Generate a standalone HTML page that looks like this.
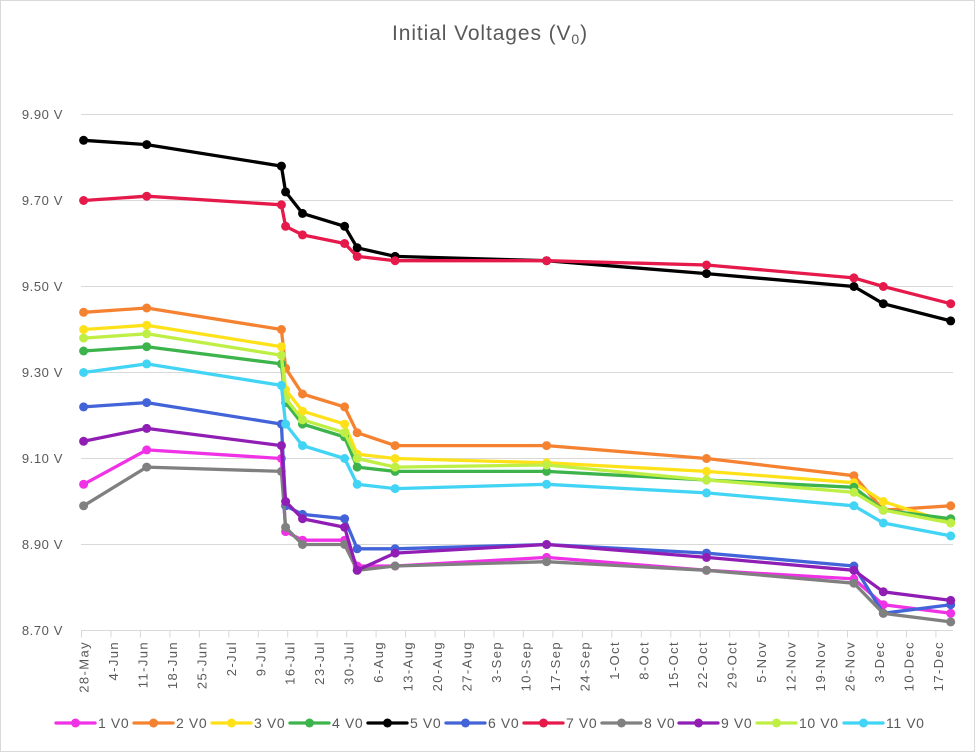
<!DOCTYPE html>
<html>
<head>
<meta charset="utf-8">
<style>
html,body{margin:0;padding:0;background:#fff;}
svg{display:block;}
text{font-family:"Liberation Sans",Arial,sans-serif;fill:#595959;}
</style>
</head>
<body>
<svg width="975" height="752" viewBox="0 0 975 752" xmlns="http://www.w3.org/2000/svg">
<defs>
<marker id="m1" markerUnits="userSpaceOnUse" markerWidth="12" markerHeight="12" refX="6" refY="6"><circle cx="6" cy="6" r="4.5" fill="#f032e6"/></marker>
<marker id="m2" markerUnits="userSpaceOnUse" markerWidth="12" markerHeight="12" refX="6" refY="6"><circle cx="6" cy="6" r="4.5" fill="#f58231"/></marker>
<marker id="m3" markerUnits="userSpaceOnUse" markerWidth="12" markerHeight="12" refX="6" refY="6"><circle cx="6" cy="6" r="4.5" fill="#ffe119"/></marker>
<marker id="m4" markerUnits="userSpaceOnUse" markerWidth="12" markerHeight="12" refX="6" refY="6"><circle cx="6" cy="6" r="4.5" fill="#3cb44b"/></marker>
<marker id="m5" markerUnits="userSpaceOnUse" markerWidth="12" markerHeight="12" refX="6" refY="6"><circle cx="6" cy="6" r="4.5" fill="#000000"/></marker>
<marker id="m6" markerUnits="userSpaceOnUse" markerWidth="12" markerHeight="12" refX="6" refY="6"><circle cx="6" cy="6" r="4.5" fill="#4363d8"/></marker>
<marker id="m7" markerUnits="userSpaceOnUse" markerWidth="12" markerHeight="12" refX="6" refY="6"><circle cx="6" cy="6" r="4.5" fill="#e6194b"/></marker>
<marker id="m8" markerUnits="userSpaceOnUse" markerWidth="12" markerHeight="12" refX="6" refY="6"><circle cx="6" cy="6" r="4.5" fill="#808080"/></marker>
<marker id="m9" markerUnits="userSpaceOnUse" markerWidth="12" markerHeight="12" refX="6" refY="6"><circle cx="6" cy="6" r="4.5" fill="#911eb4"/></marker>
<marker id="m10" markerUnits="userSpaceOnUse" markerWidth="12" markerHeight="12" refX="6" refY="6"><circle cx="6" cy="6" r="4.5" fill="#bfef45"/></marker>
<marker id="m11" markerUnits="userSpaceOnUse" markerWidth="12" markerHeight="12" refX="6" refY="6"><circle cx="6" cy="6" r="4.5" fill="#42d4f4"/></marker>
</defs>

<rect x="0.5" y="0.5" width="974" height="751" fill="#fff" stroke="#d9d9d9" stroke-width="1"/>

<!-- Title -->
<text x="490" y="40" text-anchor="middle" font-size="21" letter-spacing="0.9">Initial Voltages (V<tspan font-size="14" dy="4">0</tspan><tspan dy="-4">)</tspan></text>

<!-- gridlines -->
<g stroke="#d9d9d9" stroke-width="1" fill="none">
<line x1="81" y1="114.5" x2="953" y2="114.5"/>
<line x1="81" y1="200.5" x2="953" y2="200.5"/>
<line x1="81" y1="286.5" x2="953" y2="286.5"/>
<line x1="81" y1="372.5" x2="953" y2="372.5"/>
<line x1="81" y1="458.5" x2="953" y2="458.5"/>
<line x1="81" y1="544.5" x2="953" y2="544.5"/>
<line x1="81" y1="630.5" x2="953" y2="630.5"/>
<path d="M81.5 630.5v7M111 630.5v7M140.4 630.5v7M169.9 630.5v7M199.4 630.5v7M228.8 630.5v7M258.3 630.5v7M287.7 630.5v7M317.2 630.5v7M346.7 630.5v7M376.1 630.5v7M405.6 630.5v7M435.1 630.5v7M464.5 630.5v7M494 630.5v7M523.4 630.5v7M552.9 630.5v7M582.4 630.5v7M611.8 630.5v7M641.3 630.5v7M670.8 630.5v7M700.2 630.5v7M729.7 630.5v7M759.1 630.5v7M788.6 630.5v7M818.1 630.5v7M847.5 630.5v7M877 630.5v7M906.5 630.5v7M935.9 630.5v7"/>
</g>

<!-- y labels -->
<g font-size="13" text-anchor="end" letter-spacing="0.6">
<text x="63" y="119">9.90 V</text>
<text x="63" y="205">9.70 V</text>
<text x="63" y="291">9.50 V</text>
<text x="63" y="377">9.30 V</text>
<text x="63" y="463">9.10 V</text>
<text x="63" y="549">8.90 V</text>
<text x="63" y="635">8.70 V</text>
</g>

<!-- x labels -->
<g font-size="13" text-anchor="end" letter-spacing="1.4">
<text transform="translate(88.5,641) rotate(-90)">28-May</text>
<text transform="translate(118,641) rotate(-90)">4-Jun</text>
<text transform="translate(147.4,641) rotate(-90)">11-Jun</text>
<text transform="translate(176.9,641) rotate(-90)">18-Jun</text>
<text transform="translate(206.4,641) rotate(-90)">25-Jun</text>
<text transform="translate(235.8,641) rotate(-90)">2-Jul</text>
<text transform="translate(265.3,641) rotate(-90)">9-Jul</text>
<text transform="translate(294.7,641) rotate(-90)">16-Jul</text>
<text transform="translate(324.2,641) rotate(-90)">23-Jul</text>
<text transform="translate(353.7,641) rotate(-90)">30-Jul</text>
<text transform="translate(383.1,641) rotate(-90)">6-Aug</text>
<text transform="translate(412.6,641) rotate(-90)">13-Aug</text>
<text transform="translate(442.1,641) rotate(-90)">20-Aug</text>
<text transform="translate(471.5,641) rotate(-90)">27-Aug</text>
<text transform="translate(501,641) rotate(-90)">3-Sep</text>
<text transform="translate(530.4,641) rotate(-90)">10-Sep</text>
<text transform="translate(559.9,641) rotate(-90)">17-Sep</text>
<text transform="translate(589.4,641) rotate(-90)">24-Sep</text>
<text transform="translate(618.8,641) rotate(-90)">1-Oct</text>
<text transform="translate(648.3,641) rotate(-90)">8-Oct</text>
<text transform="translate(677.8,641) rotate(-90)">15-Oct</text>
<text transform="translate(707.2,641) rotate(-90)">22-Oct</text>
<text transform="translate(736.7,641) rotate(-90)">29-Oct</text>
<text transform="translate(766.1,641) rotate(-90)">5-Nov</text>
<text transform="translate(795.6,641) rotate(-90)">12-Nov</text>
<text transform="translate(825.1,641) rotate(-90)">19-Nov</text>
<text transform="translate(854.5,641) rotate(-90)">26-Nov</text>
<text transform="translate(884,641) rotate(-90)">3-Dec</text>
<text transform="translate(913.5,641) rotate(-90)">10-Dec</text>
<text transform="translate(942.9,641) rotate(-90)">17-Dec</text>
</g>

<!-- series -->
<g fill="none" stroke-width="3.3" stroke-linejoin="round" stroke-linecap="round">
<polyline stroke="#f032e6" marker-start="url(#m1)" marker-mid="url(#m1)" marker-end="url(#m1)" points="83.6,484.3 146.7,449.9 281.4,458.5 285.6,531.6 302.5,540.2 344.6,540.2 357.2,566 395.1,566 546.6,557.4 706.5,570.3 853.9,578.9 883.3,604.7 950.7,613.3"/>
<polyline stroke="#f58231" marker-start="url(#m2)" marker-mid="url(#m2)" marker-end="url(#m2)" points="83.6,312.3 146.7,308 281.4,329.5 285.6,368.2 302.5,394 344.6,406.9 357.2,432.7 395.1,445.6 546.6,445.6 706.5,458.5 853.9,475.7 883.3,510.1 950.7,505.8"/>
<polyline stroke="#ffe119" marker-start="url(#m3)" marker-mid="url(#m3)" marker-end="url(#m3)" points="83.6,329.5 146.7,325.2 281.4,346.7 285.6,389.7 302.5,411.2 344.6,424.1 357.2,454.2 395.1,458.5 546.6,462.8 706.5,471.4 853.9,482.7 883.3,501.5 950.7,523"/>
<polyline stroke="#3cb44b" marker-start="url(#m4)" marker-mid="url(#m4)" marker-end="url(#m4)" points="83.6,351 146.7,346.7 281.4,363.9 285.6,402.6 302.5,424.1 344.6,437 357.2,467.1 395.1,471.4 546.6,471.4 706.5,480 853.9,487.3 883.3,510.1 950.7,518.7"/>
<polyline stroke="#000000" marker-start="url(#m5)" marker-mid="url(#m5)" marker-end="url(#m5)" points="83.6,140.3 146.7,144.6 281.4,166.1 285.6,191.9 302.5,213.4 344.6,226.3 357.2,247.8 395.1,256.4 546.6,260.7 706.5,273.6 853.9,286.5 883.3,303.7 950.7,320.9"/>
<polyline stroke="#4363d8" marker-start="url(#m6)" marker-mid="url(#m6)" marker-end="url(#m6)" points="83.6,406.9 146.7,402.6 281.4,424.1 285.6,505.8 302.5,514.4 344.6,518.7 357.2,548.8 395.1,548.8 546.6,544.5 706.5,553.1 853.9,566 883.3,613.3 950.7,604.7"/>
<polyline stroke="#e6194b" marker-start="url(#m7)" marker-mid="url(#m7)" marker-end="url(#m7)" points="83.6,200.5 146.7,196.2 281.4,204.8 285.6,226.3 302.5,234.9 344.6,243.5 357.2,256.4 395.1,260.7 546.6,260.7 706.5,265 853.9,277.9 883.3,286.5 950.7,303.7"/>
<polyline stroke="#808080" marker-start="url(#m8)" marker-mid="url(#m8)" marker-end="url(#m8)" points="83.6,505.8 146.7,467.1 281.4,471.4 285.6,527.3 302.5,544.5 344.6,544.5 357.2,570.3 395.1,566 546.6,561.7 706.5,570.3 853.9,583.2 883.3,613.3 950.7,621.9"/>
<polyline stroke="#911eb4" marker-start="url(#m9)" marker-mid="url(#m9)" marker-end="url(#m9)" points="83.6,441.3 146.7,428.4 281.4,445.6 285.6,501.5 302.5,518.7 344.6,527.3 357.2,570.3 395.1,553.1 546.6,544.5 706.5,557.4 853.9,570.3 883.3,591.8 950.7,600.4"/>
<polyline stroke="#bfef45" marker-start="url(#m10)" marker-mid="url(#m10)" marker-end="url(#m10)" points="83.6,338.1 146.7,333.8 281.4,355.3 285.6,398.3 302.5,419.8 344.6,432.7 357.2,458.5 395.1,467.1 546.6,465 706.5,480 853.9,492.3 883.3,510.1 950.7,523"/>
<polyline stroke="#42d4f4" marker-start="url(#m11)" marker-mid="url(#m11)" marker-end="url(#m11)" points="83.6,372.5 146.7,363.9 281.4,385.4 285.6,424.1 302.5,445.6 344.6,458.5 357.2,484.3 395.1,488.6 546.6,484.3 706.5,492.9 853.9,505.8 883.3,523 950.7,535.9"/>
</g>

<!-- legend -->
<g stroke-width="3.3" stroke-linecap="round">
<line x1="56" y1="723" x2="95" y2="723" stroke="#f032e6"/><circle cx="75.5" cy="723" r="4.5" fill="#f032e6"/>
<line x1="134" y1="723" x2="173" y2="723" stroke="#f58231"/><circle cx="153.5" cy="723" r="4.5" fill="#f58231"/>
<line x1="212" y1="723" x2="251" y2="723" stroke="#ffe119"/><circle cx="231.5" cy="723" r="4.5" fill="#ffe119"/>
<line x1="290" y1="723" x2="329" y2="723" stroke="#3cb44b"/><circle cx="309.5" cy="723" r="4.5" fill="#3cb44b"/>
<line x1="368" y1="723" x2="407" y2="723" stroke="#000000"/><circle cx="387.5" cy="723" r="4.5" fill="#000000"/>
<line x1="446" y1="723" x2="485" y2="723" stroke="#4363d8"/><circle cx="465.5" cy="723" r="4.5" fill="#4363d8"/>
<line x1="524" y1="723" x2="563" y2="723" stroke="#e6194b"/><circle cx="543.5" cy="723" r="4.5" fill="#e6194b"/>
<line x1="602" y1="723" x2="641" y2="723" stroke="#808080"/><circle cx="621.5" cy="723" r="4.5" fill="#808080"/>
<line x1="679" y1="723" x2="718" y2="723" stroke="#911eb4"/><circle cx="698.5" cy="723" r="4.5" fill="#911eb4"/>
<line x1="757" y1="723" x2="796" y2="723" stroke="#bfef45"/><circle cx="776.5" cy="723" r="4.5" fill="#bfef45"/>
<line x1="844" y1="723" x2="883" y2="723" stroke="#42d4f4"/><circle cx="863.5" cy="723" r="4.5" fill="#42d4f4"/>
</g>
<g font-size="14" letter-spacing="0.6">
<text x="98" y="728">1 V0</text>
<text x="176" y="728">2 V0</text>
<text x="254" y="728">3 V0</text>
<text x="332" y="728">4 V0</text>
<text x="410" y="728">5 V0</text>
<text x="488" y="728">6 V0</text>
<text x="566" y="728">7 V0</text>
<text x="644" y="728">8 V0</text>
<text x="721" y="728">9 V0</text>
<text x="799" y="728">10 V0</text>
<text x="886" y="728">11 V0</text>
</g>
</svg>
</body>
</html>
